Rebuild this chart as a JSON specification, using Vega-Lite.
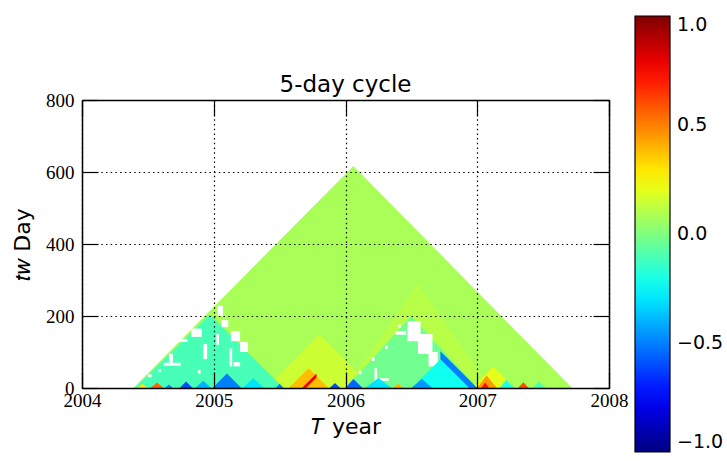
{
  "$schema": "https://vega.github.io/schema/vega-lite/v6.json",
  "width": 527,
  "height": 288,
  "autosize": {"type": "none"},
  "padding": {"left": 82, "top": 100, "right": 118, "bottom": 73},
  "background": "white",
  "config": {"view": {"stroke": null}, "font": "DejaVu Sans"},
  "title": {"text": "5-day cycle", "font": "DejaVu Sans", "fontSize": 23, "fontWeight": "normal", "color": "black", "offset": 9, "dy": 90},
  "datasets": {
    "tri": [
      {"id": "m", "lvl": 1, "T": 2004.39, "w": 0, "b": 0, "v": 0.08},
      {"id": "m", "lvl": 1, "T": 2006.06, "w": 617, "b": 0, "v": 0.08},
      {"id": "m", "lvl": 1, "T": 2007.72, "w": 0, "b": 0, "v": 0.08},

      {"id": "y1", "lvl": 2, "T": 2005.40, "w": 0, "b": 0, "v": 0.15},
      {"id": "y1", "lvl": 2, "T": 2005.80, "w": 150, "b": 0, "v": 0.15},
      {"id": "y1", "lvl": 2, "T": 2006.20, "w": 0, "b": 0, "v": 0.15},
      {"id": "y2", "lvl": 2, "T": 2006.00, "w": 0, "b": 0, "v": 0.11},
      {"id": "y2", "lvl": 2, "T": 2006.55, "w": 290, "b": 0, "v": 0.11},
      {"id": "y2", "lvl": 2, "T": 2007.10, "w": 0, "b": 0, "v": 0.11},
      {"id": "lc", "lvl": 2, "T": 2004.40, "w": 0, "b": 0, "v": -0.11},
      {"id": "lc", "lvl": 2, "T": 2004.97, "w": 205, "b": 0, "v": -0.11},
      {"id": "lc", "lvl": 2, "T": 2005.53, "w": 0, "b": 0, "v": -0.11},
      {"id": "rc", "lvl": 2, "T": 2006.00, "w": 0, "b": 0, "v": -0.03},
      {"id": "rc", "lvl": 2, "T": 2006.50, "w": 200, "b": 0, "v": -0.03},
      {"id": "rc", "lvl": 2, "T": 2007.00, "w": 0, "b": 0, "v": -0.03},
      {"id": "ry", "lvl": 2, "T": 2006.96, "w": 0, "b": 0, "v": 0.2},
      {"id": "ry", "lvl": 2, "T": 2007.12, "w": 60, "b": 0, "v": 0.2},
      {"id": "ry", "lvl": 2, "T": 2007.28, "w": 0, "b": 0, "v": 0.2},

      {"id": "rc2", "lvl": 3, "T": 2006.50, "w": 0, "b": 0, "v": -0.22},
      {"id": "rc2", "lvl": 3, "T": 2006.75, "w": 90, "b": 0, "v": -0.22},
      {"id": "rc2", "lvl": 3, "T": 2007.00, "w": 0, "b": 0, "v": -0.22},
      {"id": "rcb", "lvl": 3, "T": 2006.72, "w": 102, "b": 80, "v": -0.5},
      {"id": "rcb", "lvl": 3, "T": 2006.94, "w": 22, "b": 0, "v": -0.5},
      {"id": "rcb", "lvl": 3, "T": 2007.00, "w": 0, "b": 0, "v": -0.5},
      {"id": "lb1", "lvl": 3, "T": 2004.99, "w": 0, "b": 0, "v": -0.5},
      {"id": "lb1", "lvl": 3, "T": 2005.10, "w": 40, "b": 0, "v": -0.5},
      {"id": "lb1", "lvl": 3, "T": 2005.21, "w": 0, "b": 0, "v": -0.5},
      {"id": "lb2", "lvl": 3, "T": 2004.74, "w": 0, "b": 0, "v": -0.6},
      {"id": "lb2", "lvl": 3, "T": 2004.79, "w": 18, "b": 0, "v": -0.6},
      {"id": "lb2", "lvl": 3, "T": 2004.84, "w": 0, "b": 0, "v": -0.6},
      {"id": "lb8", "lvl": 3, "T": 2004.63, "w": 0, "b": 0, "v": -0.5},
      {"id": "lb8", "lvl": 3, "T": 2004.66, "w": 10, "b": 0, "v": -0.5},
      {"id": "lb8", "lvl": 3, "T": 2004.69, "w": 0, "b": 0, "v": -0.5},
      {"id": "glow", "lvl": 3, "T": 2005.57, "w": 0, "b": 0, "v": 0.38},
      {"id": "glow", "lvl": 3, "T": 2005.72, "w": 55, "b": 0, "v": 0.38},
      {"id": "glow", "lvl": 3, "T": 2005.87, "w": 0, "b": 0, "v": 0.38},
      {"id": "rs", "lvl": 3, "T": 2005.67, "w": 0, "b": 0, "v": 0.78},
      {"id": "rs", "lvl": 3, "T": 2005.70, "w": 11, "b": 0, "v": 0.78},
      {"id": "rs", "lvl": 3, "T": 2005.78, "w": 40, "b": 29, "v": 0.78},
      {"id": "lo1", "lvl": 3, "T": 2004.52, "w": 0, "b": 0, "v": 0.55},
      {"id": "lo1", "lvl": 3, "T": 2004.57, "w": 15, "b": 0, "v": 0.55},
      {"id": "lo1", "lvl": 3, "T": 2004.62, "w": 0, "b": 0, "v": 0.55},
      {"id": "bl3", "lvl": 3, "T": 2005.47, "w": 0, "b": 0, "v": -0.5},
      {"id": "bl3", "lvl": 3, "T": 2005.50, "w": 12, "b": 0, "v": -0.5},
      {"id": "bl3", "lvl": 3, "T": 2005.53, "w": 0, "b": 0, "v": -0.5},
      {"id": "bl4", "lvl": 3, "T": 2005.88, "w": 0, "b": 0, "v": -0.6},
      {"id": "bl4", "lvl": 3, "T": 2005.92, "w": 14, "b": 0, "v": -0.6},
      {"id": "bl4", "lvl": 3, "T": 2005.96, "w": 0, "b": 0, "v": -0.6},
      {"id": "bl5", "lvl": 3, "T": 2006.00, "w": 0, "b": 0, "v": -0.55},
      {"id": "bl5", "lvl": 3, "T": 2006.06, "w": 25, "b": 0, "v": -0.55},
      {"id": "bl5", "lvl": 3, "T": 2006.13, "w": 0, "b": 0, "v": -0.55},
      {"id": "ro1", "lvl": 3, "T": 2007.00, "w": 0, "b": 0, "v": 0.45},
      {"id": "ro1", "lvl": 3, "T": 2007.07, "w": 35, "b": 0, "v": 0.45},
      {"id": "ro1", "lvl": 3, "T": 2007.15, "w": 0, "b": 0, "v": 0.45},
      {"id": "ro2", "lvl": 3, "T": 2007.03, "w": 0, "b": 0, "v": 0.72},
      {"id": "ro2", "lvl": 3, "T": 2007.06, "w": 15, "b": 0, "v": 0.72},
      {"id": "ro2", "lvl": 3, "T": 2007.09, "w": 0, "b": 0, "v": 0.72},
      {"id": "ro3", "lvl": 3, "T": 2007.31, "w": 0, "b": 0, "v": 0.6},
      {"id": "ro3", "lvl": 3, "T": 2007.35, "w": 16, "b": 0, "v": 0.6},
      {"id": "ro3", "lvl": 3, "T": 2007.39, "w": 0, "b": 0, "v": 0.6},
      {"id": "cy1", "lvl": 3, "T": 2007.17, "w": 0, "b": 0, "v": -0.2},
      {"id": "cy1", "lvl": 3, "T": 2007.22, "w": 22, "b": 0, "v": -0.2},
      {"id": "cy1", "lvl": 3, "T": 2007.28, "w": 0, "b": 0, "v": -0.2},
      {"id": "cy2", "lvl": 3, "T": 2007.42, "w": 0, "b": 0, "v": -0.1},
      {"id": "cy2", "lvl": 3, "T": 2007.47, "w": 18, "b": 0, "v": -0.1},
      {"id": "cy2", "lvl": 3, "T": 2007.52, "w": 0, "b": 0, "v": -0.1},
      {"id": "ly1", "lvl": 3, "T": 2004.42, "w": 0, "b": 0, "v": 0.3},
      {"id": "ly1", "lvl": 3, "T": 2004.46, "w": 12, "b": 0, "v": 0.3},
      {"id": "ly1", "lvl": 3, "T": 2004.50, "w": 0, "b": 0, "v": 0.3},
      {"id": "lb6", "lvl": 3, "T": 2004.86, "w": 0, "b": 0, "v": -0.4},
      {"id": "lb6", "lvl": 3, "T": 2004.92, "w": 20, "b": 0, "v": -0.4},
      {"id": "lb6", "lvl": 3, "T": 2004.98, "w": 0, "b": 0, "v": -0.4},
      {"id": "lc3", "lvl": 3, "T": 2005.22, "w": 0, "b": 0, "v": -0.3},
      {"id": "lc3", "lvl": 3, "T": 2005.30, "w": 28, "b": 0, "v": -0.3},
      {"id": "lc3", "lvl": 3, "T": 2005.38, "w": 0, "b": 0, "v": -0.3},
      {"id": "rc3", "lvl": 3, "T": 2006.15, "w": 0, "b": 0, "v": -0.3},
      {"id": "rc3", "lvl": 3, "T": 2006.25, "w": 28, "b": 0, "v": -0.3},
      {"id": "rc3", "lvl": 3, "T": 2006.35, "w": 0, "b": 0, "v": -0.3},
      {"id": "ro4", "lvl": 3, "T": 2006.36, "w": 0, "b": 0, "v": 0.4},
      {"id": "ro4", "lvl": 3, "T": 2006.40, "w": 12, "b": 0, "v": 0.4},
      {"id": "ro4", "lvl": 3, "T": 2006.44, "w": 0, "b": 0, "v": 0.4},
      {"id": "rb7", "lvl": 3, "T": 2006.50, "w": 0, "b": 0, "v": -0.45},
      {"id": "rb7", "lvl": 3, "T": 2006.58, "w": 25, "b": 0, "v": -0.45},
      {"id": "rb7", "lvl": 3, "T": 2006.66, "w": 0, "b": 0, "v": -0.45}
    ],
    "gaps": [
      {"T0": 2004.83, "T1": 2004.91, "w0": 142, "w1": 165},
      {"T0": 2005.06, "T1": 2005.11, "w0": 169, "w1": 189},
      {"T0": 2005.13, "T1": 2005.20, "w0": 130, "w1": 158},
      {"T0": 2005.20, "T1": 2005.26, "w0": 100, "w1": 128},
      {"T0": 2005.12, "T1": 2005.14, "w0": 60, "w1": 110},
      {"T0": 2005.15, "T1": 2005.20, "w0": 60, "w1": 72},
      {"T0": 2004.62, "T1": 2004.75, "w0": 62, "w1": 70},
      {"T0": 2004.66, "T1": 2004.69, "w0": 70, "w1": 95},
      {"T0": 2004.92, "T1": 2004.95, "w0": 80, "w1": 122},
      {"T0": 2004.70, "T1": 2004.80, "w0": 128, "w1": 136},
      {"T0": 2005.03, "T1": 2005.07, "w0": 200, "w1": 228},
      {"T0": 2006.47, "T1": 2006.57, "w0": 130, "w1": 185},
      {"T0": 2006.55, "T1": 2006.66, "w0": 95, "w1": 150},
      {"T0": 2006.38, "T1": 2006.46, "w0": 148, "w1": 158},
      {"T0": 2006.63, "T1": 2006.70, "w0": 60, "w1": 100},
      {"T0": 2006.22, "T1": 2006.33, "w0": 20, "w1": 27},
      {"T0": 2006.22, "T1": 2006.24, "w0": 27, "w1": 55},
      {"T0": 2006.10, "T1": 2006.12, "w0": 38, "w1": 48},
      {"T0": 2006.20, "T1": 2006.22, "w0": 75, "w1": 85},
      {"T0": 2006.30, "T1": 2006.32, "w0": 108, "w1": 118},
      {"T0": 2006.40, "T1": 2006.42, "w0": 168, "w1": 176},
      {"T0": 2004.50, "T1": 2004.53, "w0": 30, "w1": 38},
      {"T0": 2004.58, "T1": 2004.60, "w0": 45, "w1": 52},
      {"T0": 2004.88, "T1": 2004.90, "w0": 40, "w1": 50},
      {"T0": 2005.02, "T1": 2005.04, "w0": 120, "w1": 150}
    ]
  },
  "resolve": {"axis": {"x": "independent", "y": "independent"}},
  "layer": [
    {
      "data": {"name": "tri"},
      "transform": [{"filter": "datum.lvl == 1"}],
      "mark": {"type": "area", "interpolate": "linear"},
      "encoding": {
        "x": {"field": "T", "type": "quantitative", "scale": {"domain": [2004, 2008], "nice": false, "zero": false},
          "axis": {"orient": "bottom", "values": [2004, 2005, 2006, 2007, 2008], "format": "d", "labelFont": "Liberation Serif", "labelFontSize": 19, "labelColor": "black", "labelPadding": 19, "labelFlush": false, "labelOverlap": false, "tickSize": -16, "tickColor": "black", "tickWidth": 1.2, "domain": true, "domainColor": "black", "domainWidth": 1.5, "grid": true, "gridColor": "black", "gridDash": [1.5, 3.2], "gridWidth": 1.2, "gridOpacity": 1, "title": "𝑇 year", "titleFont": "DejaVu Sans", "titleFontSize": 22, "titleFontWeight": "normal", "titleColor": "black", "titleY": 45, "titleBaseline": "alphabetic", "zindex": 1}},
        "y": {"field": "w", "type": "quantitative", "scale": {"domain": [0, 800], "nice": false},
          "axis": {"orient": "left", "values": [0, 200, 400, 600, 800], "format": "d", "labelFont": "Liberation Serif", "labelFontSize": 19, "labelColor": "black", "labelPadding": 24, "labelFlush": false, "labelOverlap": false, "tickSize": -16, "tickColor": "black", "tickWidth": 1.2, "domain": true, "domainColor": "black", "domainWidth": 1.5, "grid": true, "gridColor": "black", "gridDash": [1.5, 3.2], "gridWidth": 1.2, "gridOpacity": 1, "title": "𝑡𝑤 Day", "titleFont": "DejaVu Sans", "titleFontSize": 22, "titleFontWeight": "normal", "titleColor": "black", "titleX": -53, "titleBaseline": "alphabetic", "zindex": 1}},
        "y2": {"field": "b"},
        "color": {"field": "v", "type": "quantitative",
          "scale": {"domain": [-1, -0.75, -0.25, 0, 0.25, 0.75, 1], "range": ["#000080", "#0000ff", "#00ffff", "#80ff80", "#ffff00", "#ff0000", "#800000"], "interpolate": "rgb"},
          "legend": {"orient": "none", "legendX": 553, "legendY": -84, "direction": "vertical", "gradientLength": 436, "gradientThickness": 35, "title": null, "padding": 0, "values": [-1, -0.5, 0, 0.5, 1], "format": ".1f", "labelFontSize": 19, "labelFont": "DejaVu Sans", "labelColor": "black", "labelOffset": 7, "labelBaseline": "middle", "labelOverlap": false, "gradientStrokeColor": "black", "gradientStrokeWidth": 1.2}},
        "detail": {"field": "id"}
      }
    },
    {
      "data": {"name": "tri"},
      "transform": [{"filter": "datum.lvl == 2"}],
      "mark": {"type": "area", "interpolate": "linear"},
      "encoding": {
        "x": {"field": "T", "type": "quantitative", "axis": null},
        "y": {"field": "w", "type": "quantitative", "axis": null},
        "y2": {"field": "b"},
        "color": {"field": "v", "type": "quantitative"},
        "detail": {"field": "id"}
      }
    },
    {
      "data": {"name": "gaps"},
      "mark": {"type": "rect"},
      "encoding": {
        "x": {"field": "T0", "type": "quantitative",
          "axis": {"orient": "top", "values": [2004, 2005, 2006, 2007, 2008], "labels": false, "tickSize": -16, "tickColor": "black", "tickWidth": 1.2, "domain": true, "domainColor": "black", "domainWidth": 1.5, "grid": false, "title": null, "zindex": 1}},
        "x2": {"field": "T1"},
        "y": {"field": "w0", "type": "quantitative",
          "axis": {"orient": "right", "values": [0, 200, 400, 600, 800], "labels": false, "tickSize": -16, "tickColor": "black", "tickWidth": 1.2, "domain": true, "domainColor": "black", "domainWidth": 1.5, "grid": false, "title": null, "zindex": 1}},
        "y2": {"field": "w1"},
        "color": {"value": "white"}
      }
    },
    {
      "data": {"name": "tri"},
      "transform": [{"filter": "datum.lvl == 3"}],
      "mark": {"type": "area", "interpolate": "linear"},
      "encoding": {
        "x": {"field": "T", "type": "quantitative", "axis": null},
        "y": {"field": "w", "type": "quantitative", "axis": null},
        "y2": {"field": "b"},
        "color": {"field": "v", "type": "quantitative"},
        "detail": {"field": "id"}
      }
    }
  ]
}
